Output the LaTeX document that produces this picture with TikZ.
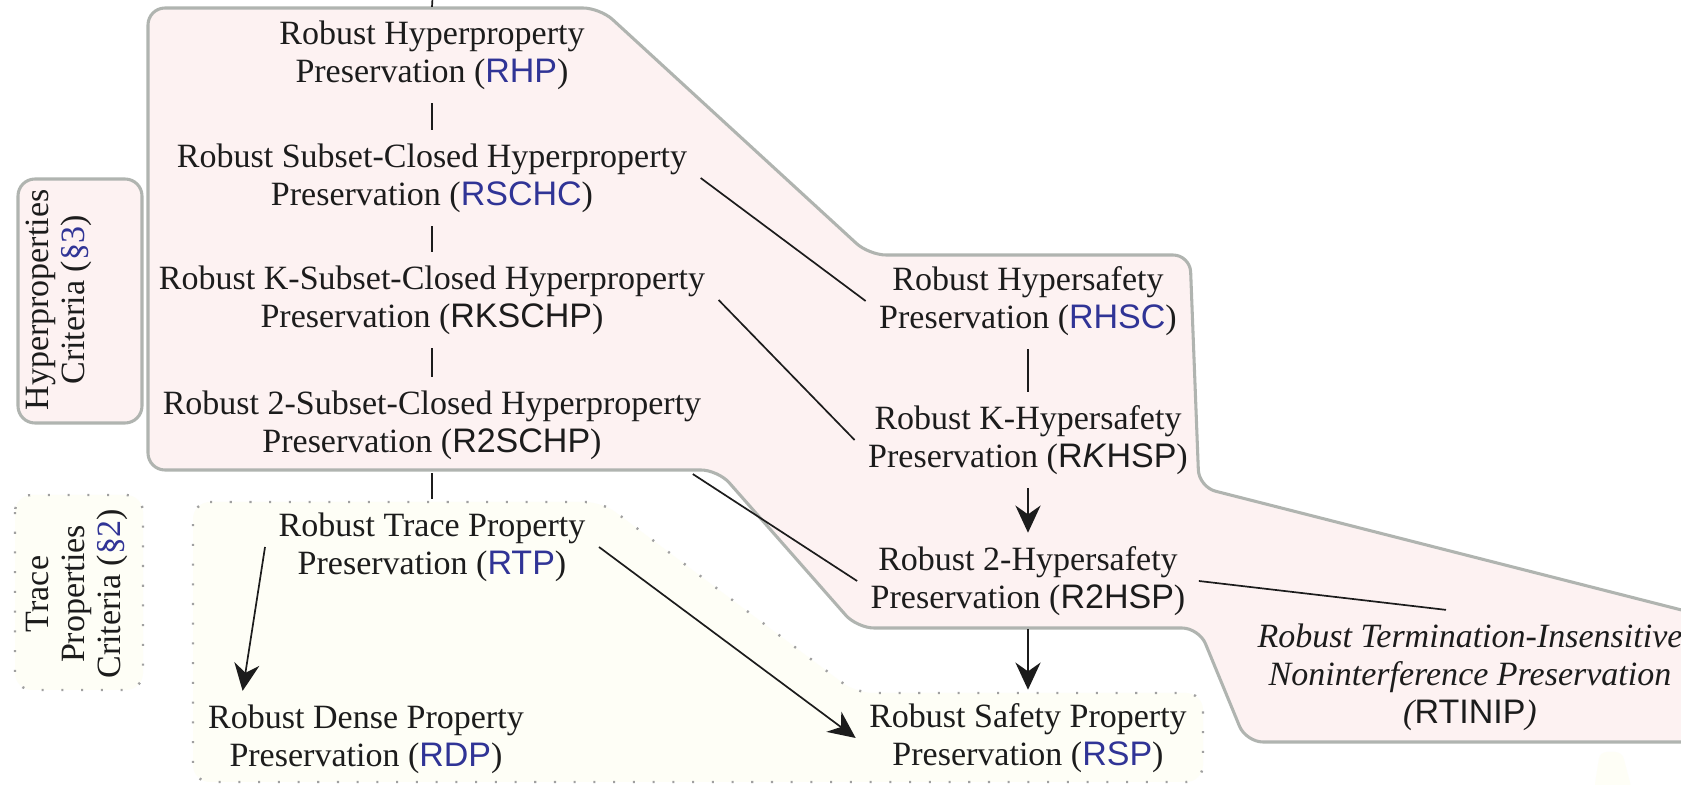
\documentclass[tikz,border=0pt]{standalone}
\usepackage{fontspec}
\setmainfont{Liberation Serif}
\newfontfamily\abbrfont{Liberation Sans}
\usetikzlibrary{arrows.meta,calc}
\definecolor{pinkfill}{RGB}{253,242,242}
\definecolor{yelfill}{RGB}{254,254,246}
\definecolor{bordergray}{RGB}{176,180,176}
\definecolor{dotgray}{RGB}{160,160,160}
\definecolor{linkblue}{RGB}{48,52,150}
\definecolor{ink}{RGB}{28,28,28}
\newcommand{\ab}[1]{{\abbrfont #1}}
\newcommand{\lk}[1]{\textcolor{linkblue}{\abbrfont #1}}
\begin{document}
\begin{tikzpicture}[x=0.294pt,y=-0.294pt,
  crit/.style={align=center, inner sep=4pt, outer sep=0pt, font=\fontsize{10}{11.2}\selectfont, text=ink},
  conn/.style={draw=ink, line width=0.5pt},
  arr/.style={conn, -{Stealth[length=8pt,width=7.4pt,inset=2.6pt]}},
  pinkregion/.style={fill=pinkfill, draw=bordergray, line width=0.9pt, rounded corners=5pt},
  yelregion/.style={fill=yelfill, draw=dotgray, line width=0.7pt, dash pattern=on 0.6pt off 5.2pt, rounded corners=5pt},
  grouplabel/.style={align=center, rotate=90, font=\fontsize{10}{10.6}\selectfont, text=ink, inner sep=0pt}]

\useasboundingbox (0,0) rectangle (1681,785);
\clip (0,0) rectangle (1681,785);
\fill[white] (0,0) rectangle (1681,785);

% regions
\path[yelregion] (193,502) -- (602,502) -- (856,693) -- (1203,693) -- (1203,782) -- (193,782) -- cycle;
\path[pinkregion] (148,8) -- (600,8) -- (869,255) -- (1190,255) -- (1199,487) -- (1760,630) -- (1760,742) -- (1246,742) -- (1199,628) -- (857,628) -- (718,470) -- (148,470) -- cycle;
\fill[yelfill, rounded corners=2pt] (1600,752) -- (1622,752) -- (1632,790) -- (1594,790) -- cycle;

% group label boxes
\path[pinkregion] (18,179) rectangle (142,423);
\path[yelregion] (15,495) rectangle (143,690);
\node[grouplabel] (hyplabel) at (59,300) {Hyperproperties\\Criteria (\textcolor{linkblue}{\S3})};
\node[grouplabel] (trlabel) at (77,594) {Trace\\Properties\\Criteria (\textcolor{linkblue}{\S2})};

% criteria
\node[crit] (RHP) at (432,55) {Robust Hyperproperty\\Preservation (\lk{RHP})};
\node[crit] (RSCHC) at (432,178) {Robust Subset-Closed Hyperproperty\\Preservation (\lk{RSCHC})};
\node[crit] (RKSCHP) at (432,300) {Robust K-Subset-Closed Hyperproperty\\Preservation (\ab{RKSCHP})};
\node[crit] (R2SCHP) at (432,425) {Robust 2-Subset-Closed Hyperproperty\\Preservation (\ab{R2SCHP})};
\node[crit] (RHSC) at (1028,301) {Robust Hypersafety\\Preservation (\lk{RHSC})};
\node[crit] (RKHSP) at (1028,440) {Robust K-Hypersafety\\Preservation (\ab{R\textit{K}HSP})};
\node[crit] (R2HSP) at (1028,581) {Robust 2-Hypersafety\\Preservation (\ab{R2HSP})};
\node[crit] (RTP) at (432,547) {Robust Trace Property\\Preservation (\lk{RTP})};
\node[crit] (RDP) at (366,739) {Robust Dense Property\\Preservation (\lk{RDP})};
\node[crit] (RSP) at (1028,738) {Robust Safety Property\\Preservation (\lk{RSP})};
\node[crit, font=\fontsize{10}{11.2}\selectfont\itshape] (RTINIP) at (1470,677) {Robust Termination-Insensitive\\Noninterference Preservation\\(\ab{\upshape RTINIP})};

% connectors
\coordinate (topin) at (433,-10);
\draw[conn] (topin) -- (RHP.north);
\draw[conn] (RHP.south) -- (RSCHC.north);
\draw[conn] (RSCHC.south) -- (RKSCHP.north);
\draw[conn] (RKSCHP.south) -- (R2SCHP.north);
\draw[conn] (R2SCHP.south) -- (RTP.north);
\draw[conn] (RSCHC.east) -- (RHSC.west);
\draw[conn] (RKSCHP.east) -- (RKHSP.west);
\draw[conn] ($(R2SCHP.south east)+(-22,1)$) -- (R2HSP.west);
\draw[conn] (RHSC.south) -- (RKHSP.north);
\draw[arr] (RKHSP.south) -- (R2HSP.north);
\draw[arr] (R2HSP.south) -- (RSP.north);
\draw[conn] (R2HSP.east) -- ($(RTINIP.north)+(-24,0)$);
\draw[arr] (RTP.west) -- ($(RDP.north west)+(48,0)$);
\draw[arr] (RTP.east) -- (RSP.west);
\end{tikzpicture}
\end{document}
